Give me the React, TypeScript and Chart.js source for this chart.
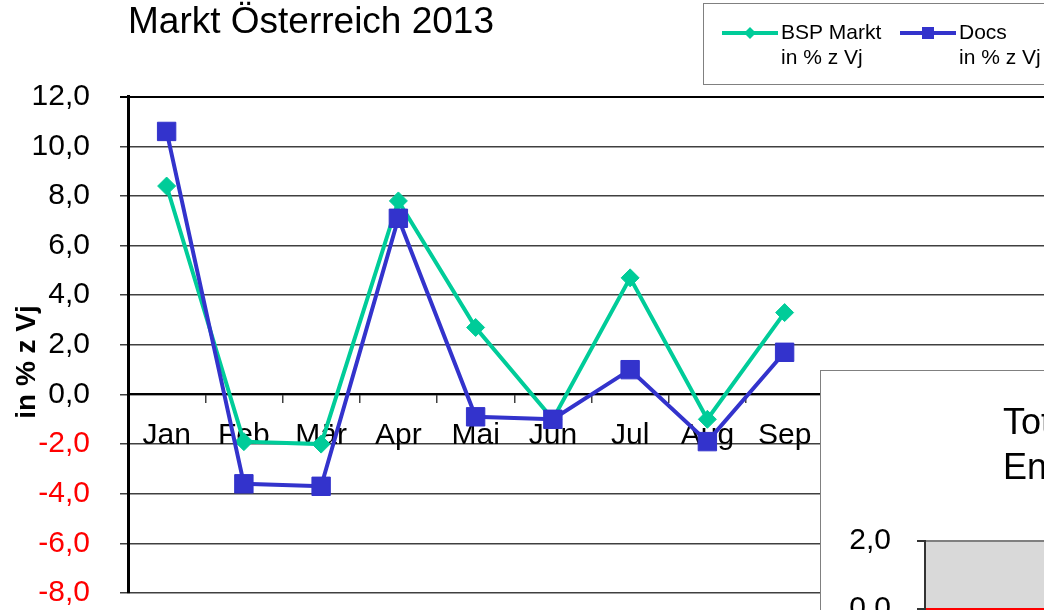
import React, { useEffect, useRef } from 'react';
import { Chart, registerables } from 'chart.js';

Chart.register(...registerables);

const FONT = "'Liberation Sans', Arial, sans-serif";

const chartTitle = 'Markt Österreich 2013';
const yAxisTitle = 'in % z Vj';
const months = ['Jan', 'Feb', 'Mär', 'Apr', 'Mai', 'Jun', 'Jul', 'Aug', 'Sep', 'Okt', 'Nov', 'Dez'];
const bspMarkt = [8.4, -1.9, -2.0, 7.8, 2.7, -1.0, 4.7, -1.0, 3.3, null, null, null];
const docs = [10.6, -3.6, -3.7, 7.1, -0.9, -1.0, 1.0, -1.9, 1.7, null, null, null];
const legendBsp = ['BSP Markt', 'in % z Vj'];
const legendDocs = ['Docs', 'in % z Vj'];
const yMin = -8;
const yMax = 12;
const yStep = 2;

const insetTitle = ['Total', 'Entwicklung'];
const insetLabels = ['2013'];
const insetValues: (number | null)[] = [null];
const insetMin = -2;
const insetMax = 2;
const insetStep = 2;

const fmt = (v: number | string) => Number(v).toFixed(1).replace('.', ',');

const legendPlugin = {
  id: 'boxLegend',
  afterDraw(chart: any) {
    const ctx = chart.ctx as CanvasRenderingContext2D;
    ctx.save();
    ctx.fillStyle = '#ffffff';
    ctx.fillRect(704, 4, 400, 80);
    ctx.strokeStyle = '#808080';
    ctx.lineWidth = 1;
    ctx.strokeRect(703.5, 3.5, 400, 81);
    const starts = [722, 900];
    chart.data.datasets.forEach((ds: any, i: number) => {
      const x0 = starts[i];
      const y0 = 33;
      ctx.strokeStyle = ds.borderColor;
      ctx.lineWidth = 4;
      ctx.beginPath();
      ctx.moveTo(x0, y0);
      ctx.lineTo(x0 + 56, y0);
      ctx.stroke();
      const cx = x0 + 28;
      ctx.fillStyle = ds.backgroundColor;
      if (ds.pointStyle === 'rectRot') {
        ctx.beginPath();
        ctx.moveTo(cx, y0 - 6);
        ctx.lineTo(cx + 6, y0);
        ctx.lineTo(cx, y0 + 6);
        ctx.lineTo(cx - 6, y0);
        ctx.closePath();
        ctx.fill();
      } else {
        ctx.fillRect(cx - 6, y0 - 6, 12, 12);
      }
      ctx.fillStyle = '#000000';
      ctx.font = `21px ${FONT}`;
      ctx.textAlign = 'left';
      ctx.textBaseline = 'middle';
      (ds.legendLines as string[]).forEach((t, j) => ctx.fillText(t, x0 + 59, y0 + j * 25));
    });
    ctx.restore();
  },
};

const yTitlePlugin = {
  id: 'yTitle',
  afterDraw(chart: any) {
    const ctx = chart.ctx as CanvasRenderingContext2D;
    ctx.save();
    ctx.translate(27, 362);
    ctx.rotate(-Math.PI / 2);
    ctx.fillStyle = '#000000';
    ctx.font = `bold 28px ${FONT}`;
    ctx.textAlign = 'center';
    ctx.textBaseline = 'middle';
    ctx.fillText(yAxisTitle, 0, 0);
    ctx.restore();
  },
};

const insetPlugin = {
  id: 'insetDeco',
  beforeDraw(chart: any) {
    const ctx = chart.ctx as CanvasRenderingContext2D;
    const { width, height, chartArea } = chart;
    ctx.save();
    ctx.fillStyle = '#ffffff';
    ctx.fillRect(0, 0, width, height);
    ctx.strokeStyle = '#808080';
    ctx.lineWidth = 1;
    ctx.strokeRect(0.5, 0.5, width, height);
    ctx.fillStyle = '#D9D9D9';
    ctx.fillRect(chartArea.left, chartArea.top, chartArea.right - chartArea.left, chartArea.bottom - chartArea.top);
    ctx.restore();
  },
  afterDraw(chart: any) {
    const ctx = chart.ctx as CanvasRenderingContext2D;
    ctx.save();
    ctx.fillStyle = '#000000';
    ctx.font = `36px ${FONT}`;
    ctx.textAlign = 'left';
    ctx.textBaseline = 'middle';
    insetTitle.forEach((t, i) => ctx.fillText(t, 183, 54 + i * 45));
    ctx.restore();
  },
};

export default function App() {
  const mainRef = useRef<HTMLCanvasElement>(null);
  const insetRef = useRef<HTMLCanvasElement>(null);

  useEffect(() => {
    const main = new Chart(mainRef.current as HTMLCanvasElement, {
      type: 'line',
      data: {
        labels: months,
        datasets: [
          {
            label: legendBsp.join(' '),
            legendLines: legendBsp,
            data: bspMarkt,
            borderColor: '#00CC99',
            backgroundColor: '#00CC99',
            borderWidth: 4,
            pointStyle: 'rectRot',
            pointRadius: 9,
            pointBorderWidth: 1,
            tension: 0,
            spanGaps: false,
            order: 2,
          } as any,
          {
            label: legendDocs.join(' '),
            legendLines: legendDocs,
            data: docs,
            borderColor: '#3333CC',
            backgroundColor: '#3333CC',
            borderWidth: 4,
            pointStyle: 'rect',
            pointRadius: 13,
            pointBorderWidth: 1,
            tension: 0,
            spanGaps: false,
            order: 1,
          } as any,
        ],
      },
      options: {
        responsive: false,
        animation: false,
        devicePixelRatio: 1,
        layout: { padding: { left: 0, right: 15, top: 0, bottom: 0 } },
        plugins: {
          legend: { display: false },
          tooltip: { enabled: false },
          title: {
            display: true,
            text: chartTitle,
            align: 'start',
            fullSize: false,
            color: '#000000',
            font: { family: FONT, size: 37, weight: 'normal', lineHeight: 1.1 },
            padding: { top: 2, bottom: 54 },
          } as any,
        },
        scales: {
          x: {
            type: 'category',
            position: { y: 0 } as any,
            offset: true,
            afterFit: (s: any) => {
              s.height = 0;
            },
            grid: {
              drawOnChartArea: false,
              drawTicks: true,
              tickLength: 8,
              offset: true,
              color: '#404040',
              lineWidth: 1.5,
            },
            border: { display: true, color: '#000000', width: 2 },
            ticks: {
              color: '#000000',
              font: { family: FONT, size: 30 },
              padding: 15,
              maxRotation: 0,
              autoSkip: false,
            },
          },
          y: {
            min: yMin,
            max: yMax,
            afterFit: (s: any) => {
              s.width = 128;
            },
            ticks: {
              stepSize: yStep,
              padding: 30,
              color: (c: any) => (c.tick.value < 0 ? '#FF0000' : '#000000'),
              font: { family: FONT, size: 30 },
              callback: (v: any) => fmt(v),
            },
            grid: {
              color: (c: any) => (c.tick && c.tick.value === yMax ? '#000000' : '#404040'),
              lineWidth: (c: any) => (c.tick && c.tick.value === yMax ? 2 : 1.5),
              tickLength: 8,
              drawTicks: true,
            },
            border: { color: '#000000', width: 3 },
          },
        },
      },
      plugins: [legendPlugin, yTitlePlugin],
    } as any);

    const inset = new Chart(insetRef.current as HTMLCanvasElement, {
      type: 'bar',
      data: {
        labels: insetLabels,
        datasets: [{ data: insetValues, backgroundColor: '#FF0000' }],
      },
      options: {
        responsive: false,
        animation: false,
        devicePixelRatio: 1,
        layout: { padding: { left: 0, right: 0, top: 171, bottom: 0 } },
        plugins: { legend: { display: false }, tooltip: { enabled: false } },
        scales: {
          x: { display: false },
          y: {
            min: insetMin,
            max: insetMax,
            afterFit: (s: any) => {
              s.width = 105;
            },
            ticks: {
              stepSize: insetStep,
              padding: 26,
              color: (c: any) => (c.tick.value < 0 ? '#FF0000' : '#000000'),
              font: { family: FONT, size: 30 },
              callback: (v: any) => fmt(v),
            },
            grid: {
              color: (c: any) =>
                c.tick && c.tick.value === 0 ? '#FF0000' : c.tick && c.tick.value === insetMax ? '#808080' : 'rgba(0,0,0,0)',
              lineWidth: 2,
              tickLength: 8,
              tickColor: '#333333',
            },
            border: { color: '#333333', width: 2 },
          },
        },
      },
      plugins: [insetPlugin],
    } as any);

    return () => {
      main.destroy();
      inset.destroy();
    };
  }, []);

  return (
    <div
      style={{
        position: 'fixed',
        left: 0,
        top: 0,
        width: 1044,
        height: 610,
        overflow: 'hidden',
        background: '#ffffff',
      }}
    >
      <canvas ref={mainRef} width={1070} height={641} style={{ position: 'absolute', left: 0, top: 0 }} />
      <canvas ref={insetRef} width={300} height={351} style={{ position: 'absolute', left: 820, top: 370 }} />
    </div>
  );
}
